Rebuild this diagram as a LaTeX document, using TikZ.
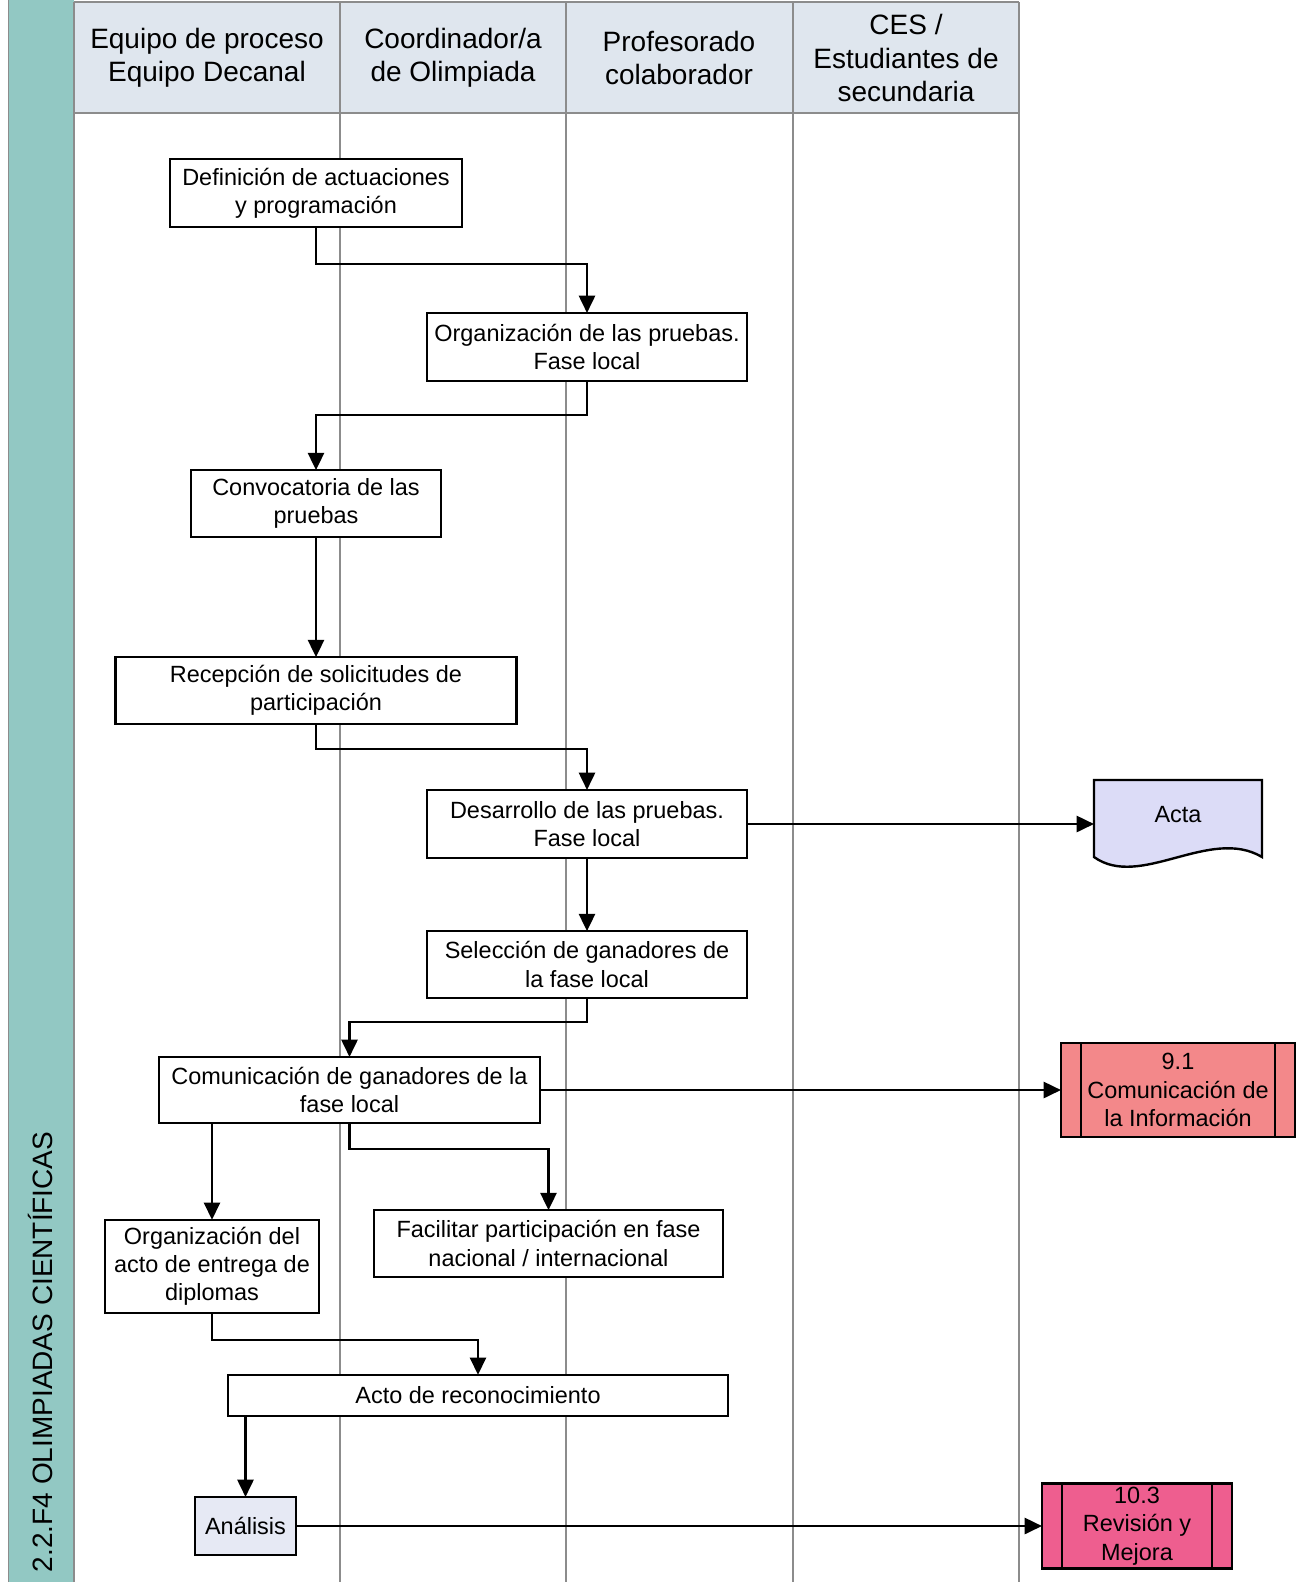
\documentclass[tikz,border=0pt]{standalone}
\usepackage{fontspec}
\setmainfont{Liberation Sans}
\usetikzlibrary{arrows.meta,calc}
\definecolor{teal}{HTML}{92C8C3}
\definecolor{headfill}{HTML}{DFE6EE}
\definecolor{laneline}{HTML}{8C8C8C}
\definecolor{actafill}{HTML}{DCDCF7}
\definecolor{anafill}{HTML}{E6E9F4}
\definecolor{subA}{HTML}{F3888A}
\definecolor{subB}{HTML}{EE5E8F}
\tikzset{
  every node/.style={inner sep=0pt, outer sep=0pt},
  box/.style={draw=black, line width=1.8pt, fill=white, align=center,
    font=\fontsize{17.6}{21.2}\selectfont},
  head/.style={align=center, font=\fontsize{21}{25}\selectfont},
  arr/.style={line width=2pt, -{Triangle[length=13pt,width=12pt]}},
  lane/.style={draw=laneline, line width=0.8pt}
}
\begin{document}
\begin{tikzpicture}[x=0.75pt,y=-0.75pt]
\useasboundingbox (0,0) rectangle (1302,1582);
\fill[white] (0,0) rectangle (1302,1582);
% teal band
\fill[teal] (8,0) rectangle (74,1582);
\draw[laneline, line width=0.6pt] (8,0) -- (8,1582);
% header
\fill[headfill] (74,2) rectangle (1019,113);
\draw[lane] (74,2) -- (1019,2);
\draw[lane] (74,113) -- (1019,113);
\foreach \x in {74,340,566,793,1019} \draw[lane] (\x,2) -- (\x,1582);
\node[head] (h1) at (207,58) {Equipo de proceso\\Equipo Decanal};
\node[head] (h2) at (453,58) {Coordinador/a\\de Olimpiada};
\node[head] (h3) at (679,58) {Profesorado\\colaborador};
\node[head] (h4) at (906,58) {CES /\\Estudiantes de\\secundaria};
\node[head, rotate=90, anchor=west] (title) at (40,1572) {2.2.F4 OLIMPIADAS CIENTÍFICAS};

% nodes
\node[box, minimum width=219pt, minimum height=51pt] (def) at (316,193) {Definición de actuaciones\\y programación};
\node[box, minimum width=240pt, minimum height=51pt] (orgp) at (587,347) {Organización de las pruebas.\\Fase local};
\node[box, minimum width=187.5pt, minimum height=50pt] (conv) at (316,503.5) {Convocatoria de las\\pruebas};
\node[box, minimum width=300.75pt, minimum height=50pt] (recep) at (316,690.5) {Recepción de solicitudes de\\participación};
\node[box, minimum width=240pt, minimum height=51pt] (desa) at (587,824) {Desarrollo de las pruebas.\\Fase local};
\node[box, minimum width=240pt, minimum height=50pt] (sel) at (587,964.5) {Selección de ganadores de\\la fase local};
\node[box, minimum width=285.75pt, minimum height=49.5pt] (com) at (349.5,1090) {Comunicación de ganadores de la\\fase local};
\node[box, minimum width=261.75pt, minimum height=50pt] (fac) at (548.5,1243.5) {Facilitar participación en fase\\nacional / internacional};
\node[box, minimum width=160.5pt, minimum height=70pt] (orga) at (212,1266.5) {Organización del\\acto de entrega de\\diplomas};
\node[box, minimum width=375pt, minimum height=31pt] (acto) at (478,1395.5) {Acto de reconocimiento};
\node[box, fill=anafill, minimum width=75.75pt, minimum height=43.5pt] (ana) at (245.5,1526) {Análisis};

% Acta document
\draw[line width=1.8pt, fill=actafill] (1094,780) -- (1262,780) -- (1262,857)
  .. controls (1210,826) and (1140,890) .. (1094,857) -- cycle;
\coordinate (acta) at (1094,824);
\node[font=\fontsize{17.6}{21.2}\selectfont] (actatxt) at (1178,815) {Acta};

% subprocess boxes
\node[box, fill=subA, minimum width=175.5pt, minimum height=70.5pt] (p91) at (1178,1090) {9.1\\Comunicación de\\la Información};
\draw[line width=1.8pt] ([xshift=15pt]p91.north west) -- ([xshift=15pt]p91.south west);
\draw[line width=1.8pt] ([xshift=-15pt]p91.north east) -- ([xshift=-15pt]p91.south east);
\node[box, fill=subB, minimum width=142.5pt, minimum height=64pt] (p103) at (1137,1526) {10.3\\Revisión y\\Mejora};
\draw[line width=1.8pt] ([xshift=15pt]p103.north west) -- ([xshift=15pt]p103.south west);
\draw[line width=1.8pt] ([xshift=-15pt]p103.north east) -- ([xshift=-15pt]p103.south east);

% connectors
\draw[arr] (def.south) -- (def.south |- 0,264) -- (orgp.north |- 0,264) -- (orgp.north);
\draw[arr] (orgp.south) -- (orgp.south |- 0,415) -- (conv.north |- 0,415) -- (conv.north);
\draw[arr] (conv.south) -- (recep.north);
\draw[arr] (recep.south) -- (recep.south |- 0,749) -- (desa.north |- 0,749) -- (desa.north);
\draw[arr] (desa.south) -- (sel.north);
\draw[arr] (desa.east) -- (acta);
\draw[arr] (sel.south) -- (sel.south |- 0,1022) -- (com.north |- 0,1022) -- (com.north);
\draw[arr] (com.east) -- (p91.west);
\draw[arr] (orga.north |- com.south) -- (orga.north);
\draw[arr] (com.south) -- (com.south |- 0,1149) -- (fac.north |- 0,1149) -- (fac.north);
\draw[arr] (orga.south) -- (orga.south |- 0,1340) -- (acto.north |- 0,1340) -- (acto.north);
\draw[arr] (ana.north |- acto.south) -- (ana.north);
\draw[arr] (ana.east) -- (p103.west);
\end{tikzpicture}
\end{document}
